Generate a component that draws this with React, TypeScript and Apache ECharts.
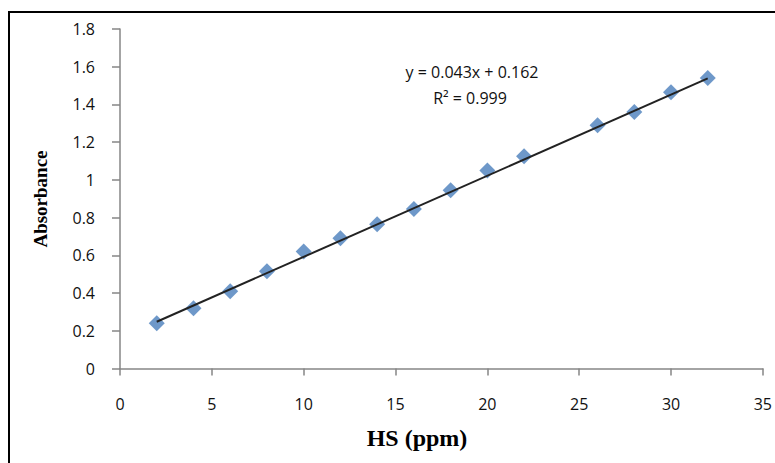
import React, { useEffect, useRef } from "react";
import * as echarts from "echarts";

const concentrations = [2, 4, 6, 8, 10, 12, 14, 16, 18, 20, 22, 26, 28, 30, 32];
const absorbances = [0.24, 0.32, 0.41, 0.515, 0.62, 0.69, 0.765, 0.845, 0.945, 1.05, 1.125, 1.29, 1.36, 1.465, 1.54];
const trendX = [2, 32];
const trendY = [0.248, 1.538];
const equationLines = ["y = 0.043x + 0.162", "R\u00b2 = 0.999"];
const xTitle = "HS (ppm)";
const yTitle = "Absorbance";

export default function App() {
  const ref = useRef<HTMLDivElement>(null);
  useEffect(() => {
    if (!ref.current) return;
    const chart = echarts.init(ref.current, null, { renderer: "svg" });
    const labelFont = "'Open Sans', 'Liberation Sans', sans-serif";
    const serif = "'Liberation Serif', 'DejaVu Serif', serif";
    chart.setOption({
      animation: false,
      backgroundColor: "#ffffff",
      grid: { left: 120, right: 9, top: 29, bottom: 94.5, containLabel: false },
      xAxis: {
        type: "value",
        min: 0,
        max: 35,
        interval: 5,
        axisLine: { show: true, lineStyle: { color: "#868686", width: 1.5 } },
        axisTick: { show: true, length: 7, lineStyle: { color: "#868686", width: 1.5 } },
        splitLine: { show: false },
        axisLabel: { color: "#111", fontFamily: labelFont, fontSize: 16, margin: 27 },
      },
      yAxis: {
        type: "value",
        min: 0,
        max: 1.8,
        interval: 0.2,
        axisLine: { show: true, onZero: false, lineStyle: { color: "#868686", width: 1.5 } },
        axisTick: { show: true, length: 8, lineStyle: { color: "#868686", width: 1.5 } },
        splitLine: { show: false },
        axisLabel: { color: "#111", fontFamily: labelFont, fontSize: 16, margin: 25 },
      },
      series: [
        {
          type: "scatter",
          data: concentrations.map((x, i) => [x, absorbances[i]]),
          symbol: "diamond",
          symbolSize: 16,
          itemStyle: { color: "#4A7EBB" },
          z: 2,
        },
        {
          type: "line",
          data: trendX.map((x, i) => [x, trendY[i]]),
          symbol: "none",
          lineStyle: { color: "#222", width: 2 },
          z: 3,
        },
      ],
      graphic: [
        {
          type: "rect",
          shape: { x: 9, y: 12, width: 800, height: 500 },
          style: { fill: "none", stroke: "#000", lineWidth: 2 },
          silent: true,
        },
        {
          type: "text",
          x: 472,
          y: 72,
          style: {
            text: equationLines[0],
            fontFamily: labelFont,
            fontSize: 16,
            fill: "#111",
            textAlign: "center",
            textVerticalAlign: "middle",
          },
        },
        {
          type: "text",
          x: 470,
          y: 98,
          style: {
            text: equationLines[1],
            fontFamily: labelFont,
            fontSize: 16,
            fill: "#111",
            textAlign: "center",
            textVerticalAlign: "middle",
          },
        },
        {
          type: "text",
          x: 417,
          y: 438,
          style: {
            text: xTitle,
            fontFamily: serif,
            fontWeight: "bold",
            fontSize: 24,
            fill: "#000",
            textAlign: "center",
            textVerticalAlign: "middle",
          },
        },
        {
          type: "text",
          x: 40,
          y: 199,
          rotation: Math.PI / 2,
          style: {
            text: yTitle,
            fontFamily: serif,
            fontWeight: "bold",
            fontSize: 19,
            fill: "#000",
            textAlign: "center",
            textVerticalAlign: "middle",
          },
        },
      ],
    });
    return () => chart.dispose();
  }, []);
  return (
    <div
      ref={ref}
      style={{ position: "fixed", left: 0, top: 0, width: 775, height: 463, background: "#fff" }}
    />
  );
}
